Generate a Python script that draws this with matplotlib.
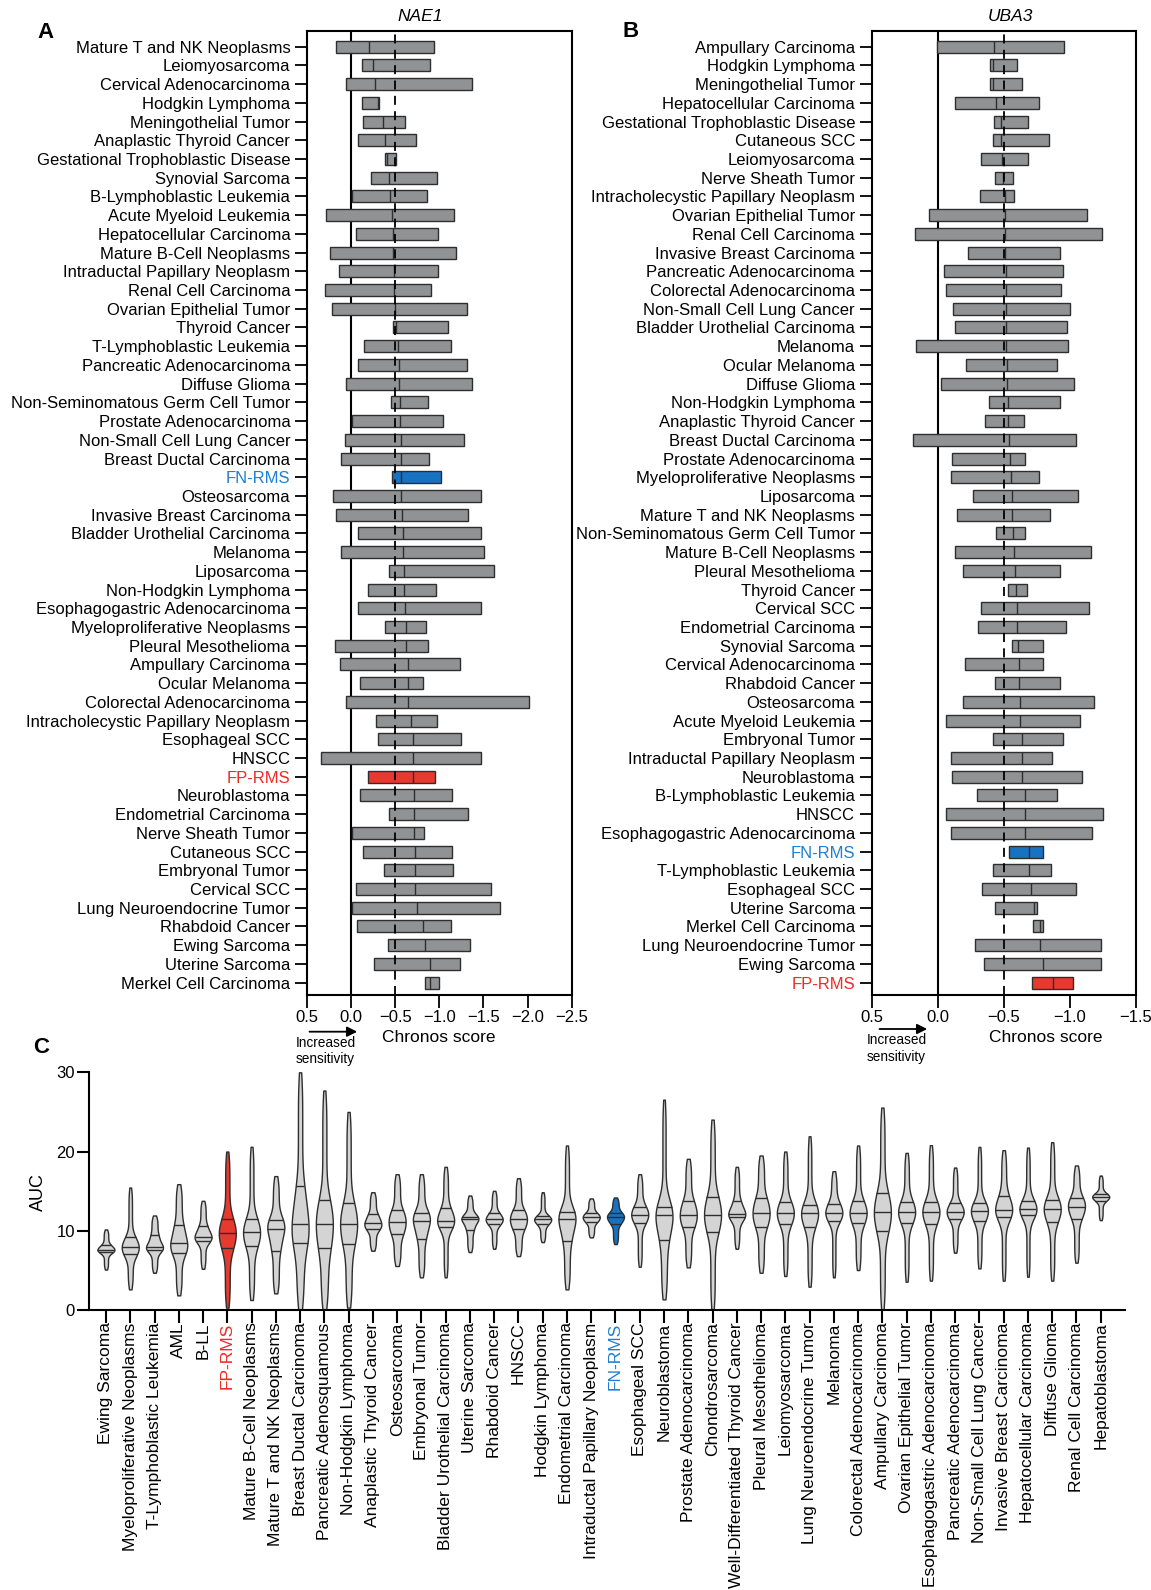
import numpy as np
import matplotlib
matplotlib.use("Agg")
import matplotlib.pyplot as plt

plt.rcParams['font.family'] = ['Liberation Sans', 'DejaVu Sans']

GRAY = "#909294"
EDGE = "#2e2e2e"
VIOLIN = "#d4d4d4"
RED = "#e8392f"
BLUE = "#1872c2"
FILL_COLORS = {"FP-RMS": RED, "FN-RMS": BLUE}
TEXT_COLORS = {"FP-RMS": "#ee2a24", "FN-RMS": "#1f7fd2"}

# ---- panel A: NAE1 Chronos scores (bar = range, line = median)
nae1_types = [
    "Mature T and NK Neoplasms", "Leiomyosarcoma", "Cervical Adenocarcinoma", "Hodgkin Lymphoma",
    "Meningothelial Tumor", "Anaplastic Thyroid Cancer", "Gestational Trophoblastic Disease",
    "Synovial Sarcoma", "B-Lymphoblastic Leukemia", "Acute Myeloid Leukemia", "Hepatocellular Carcinoma",
    "Mature B-Cell Neoplasms", "Intraductal Papillary Neoplasm", "Renal Cell Carcinoma",
    "Ovarian Epithelial Tumor", "Thyroid Cancer", "T-Lymphoblastic Leukemia", "Pancreatic Adenocarcinoma",
    "Diffuse Glioma", "Non-Seminomatous Germ Cell Tumor", "Prostate Adenocarcinoma",
    "Non-Small Cell Lung Cancer", "Breast Ductal Carcinoma", "FN-RMS", "Osteosarcoma",
    "Invasive Breast Carcinoma", "Bladder Urothelial Carcinoma", "Melanoma", "Liposarcoma",
    "Non-Hodgkin Lymphoma", "Esophagogastric Adenocarcinoma", "Myeloproliferative Neoplasms",
    "Pleural Mesothelioma", "Ampullary Carcinoma", "Ocular Melanoma", "Colorectal Adenocarcinoma",
    "Intracholecystic Papillary Neoplasm", "Esophageal SCC", "HNSCC", "FP-RMS", "Neuroblastoma",
    "Endometrial Carcinoma", "Nerve Sheath Tumor", "Cutaneous SCC", "Embryonal Tumor", "Cervical SCC",
    "Lung Neuroendocrine Tumor", "Rhabdoid Cancer", "Ewing Sarcoma", "Uterine Sarcoma",
    "Merkel Cell Carcinoma",
]
nae1_high = [0.17, -0.125, 0.06, -0.125, -0.136, -0.08, -0.38, -0.22, -0.01, 0.28, -0.057, 0.235,
             0.136, 0.30, 0.22, -0.47, -0.144, -0.083, 0.06, -0.45, -0.008, 0.064, 0.12, -0.458,
             0.20, 0.17, -0.083, 0.12, -0.43, -0.186, -0.083, -0.38, 0.18, 0.129, -0.10, 0.057,
             -0.284, -0.30, 0.337, -0.19, -0.10, -0.435, -0.008, -0.14, -0.375, -0.053, -0.008,
             -0.068, -0.417, -0.26, -0.833]
nae1_median = [-0.20, -0.246, -0.27, -0.31, -0.36, -0.38, -0.41, -0.43, -0.44, -0.466, -0.47, -0.48,
               -0.49, -0.49, -0.50, -0.51, -0.527, -0.54, -0.545, -0.557, -0.553, -0.56, -0.56, -0.56,
               -0.564, -0.576, -0.587, -0.587, -0.60, -0.60, -0.606, -0.617, -0.62, -0.644, -0.644,
               -0.65, -0.678, -0.70, -0.70, -0.705, -0.708, -0.708, -0.708, -0.72, -0.72, -0.72,
               -0.75, -0.82, -0.84, -0.894, -0.894]
nae1_low = [-0.94, -0.894, -1.375, -0.32, -0.61, -0.735, -0.51, -0.97, -0.856, -1.167, -0.98, -1.19,
            -0.985, -0.90, -1.31, -1.095, -1.13, -1.31, -1.375, -0.875, -1.04, -1.28, -0.88, -1.02,
            -1.477, -1.32, -1.47, -1.51, -1.62, -0.96, -1.47, -0.85, -0.867, -1.235, -0.82, -2.02,
            -0.97, -1.246, -1.477, -0.95, -1.148, -1.326, -0.826, -1.14, -1.15, -1.58, -1.686,
            -1.136, -1.345, -1.235, -1.0]

# ---- panel B: UBA3 Chronos scores
uba3_types = [
    "Ampullary Carcinoma", "Hodgkin Lymphoma", "Meningothelial Tumor", "Hepatocellular Carcinoma",
    "Gestational Trophoblastic Disease", "Cutaneous SCC", "Leiomyosarcoma", "Nerve Sheath Tumor",
    "Intracholecystic Papillary Neoplasm", "Ovarian Epithelial Tumor", "Renal Cell Carcinoma",
    "Invasive Breast Carcinoma", "Pancreatic Adenocarcinoma", "Colorectal Adenocarcinoma",
    "Non-Small Cell Lung Cancer", "Bladder Urothelial Carcinoma", "Melanoma", "Ocular Melanoma",
    "Diffuse Glioma", "Non-Hodgkin Lymphoma", "Anaplastic Thyroid Cancer", "Breast Ductal Carcinoma",
    "Prostate Adenocarcinoma", "Myeloproliferative Neoplasms", "Liposarcoma", "Mature T and NK Neoplasms",
    "Non-Seminomatous Germ Cell Tumor", "Mature B-Cell Neoplasms", "Pleural Mesothelioma",
    "Thyroid Cancer", "Cervical SCC", "Endometrial Carcinoma", "Synovial Sarcoma",
    "Cervical Adenocarcinoma", "Rhabdoid Cancer", "Osteosarcoma", "Acute Myeloid Leukemia",
    "Embryonal Tumor", "Intraductal Papillary Neoplasm", "Neuroblastoma", "B-Lymphoblastic Leukemia",
    "HNSCC", "Esophagogastric Adenocarcinoma", "FN-RMS", "T-Lymphoblastic Leukemia", "Esophageal SCC",
    "Uterine Sarcoma", "Merkel Cell Carcinoma", "Lung Neuroendocrine Tumor", "Ewing Sarcoma", "FP-RMS",
]
uba3_high = [0.005, -0.395, -0.395, -0.13, -0.423, -0.416, -0.327, -0.436, -0.322, 0.063, 0.174,
             -0.229, -0.048, -0.06, -0.118, -0.134, 0.164, -0.214, -0.023, -0.388, -0.358, 0.19,
             -0.106, -0.103, -0.267, -0.144, -0.443, -0.131, -0.189, -0.534, -0.325, -0.302, -0.562,
             -0.207, -0.433, -0.189, -0.06, -0.42, -0.103, -0.106, -0.30, -0.063, -0.10, -0.539,
             -0.416, -0.335, -0.436, -0.718, -0.28, -0.348, -0.71]
uba3_median = [-0.426, -0.418, -0.418, -0.44, -0.476, -0.48, -0.489, -0.494, -0.505, -0.509, -0.511,
               -0.511, -0.514, -0.514, -0.516, -0.519, -0.519, -0.521, -0.524, -0.531, -0.531, -0.539,
               -0.55, -0.554, -0.559, -0.562, -0.567, -0.574, -0.587, -0.589, -0.60, -0.602, -0.605,
               -0.612, -0.612, -0.62, -0.625, -0.637, -0.637, -0.64, -0.662, -0.662, -0.662, -0.69,
               -0.69, -0.703, -0.725, -0.77, -0.776, -0.80, -0.87]
uba3_low = [-0.957, -0.60, -0.637, -0.766, -0.68, -0.84, -0.68, -0.567, -0.577, -1.126, -1.242,
            -0.927, -0.945, -0.935, -1.0, -0.975, -0.982, -0.90, -1.028, -0.927, -0.65, -1.045,
            -0.66, -0.763, -1.06, -0.846, -0.662, -1.161, -0.927, -0.678, -1.144, -0.967, -0.793,
            -0.80, -0.924, -1.179, -1.076, -0.945, -0.866, -1.088, -0.90, -1.254, -1.169, -0.80,
            -0.854, -1.045, -0.75, -0.793, -1.232, -1.232, -1.023]

# ---- panel C: AUC distributions (min, quartiles, max)
auc_types = [
    "Ewing Sarcoma", "Myeloproliferative Neoplasms", "T-Lymphoblastic Leukemia", "AML", "B-LL", "FP-RMS",
    "Mature B-Cell Neoplasms", "Mature T and NK Neoplasms", "Breast Ductal Carcinoma",
    "Pancreatic Adenosquamous", "Non-Hodgkin Lymphoma", "Anaplastic Thyroid Cancer", "Osteosarcoma",
    "Embryonal Tumor", "Bladder Urothelial Carcinoma", "Uterine Sarcoma", "Rhabdoid Cancer", "HNSCC",
    "Hodgkin Lymphoma", "Endometrial Carcinoma", "Intraductal Papillary Neoplasm", "FN-RMS",
    "Esophageal SCC", "Neuroblastoma", "Prostate Adenocarcinoma", "Chondrosarcoma",
    "Well-Differentiated Thyroid Cancer", "Pleural Mesothelioma", "Leiomyosarcoma",
    "Lung Neuroendocrine Tumor", "Melanoma", "Colorectal Adenocarcinoma", "Ampullary Carcinoma",
    "Ovarian Epithelial Tumor", "Esophagogastric Adenocarcinoma", "Pancreatic Adenocarcinoma",
    "Non-Small Cell Lung Cancer", "Invasive Breast Carcinoma", "Hepatocellular Carcinoma",
    "Diffuse Glioma", "Renal Cell Carcinoma", "Hepatoblastoma",
]
auc_min = [5.1, 2.6, 4.7, 1.85, 5.2, 0.3, 1.26, 2.1, 0.0, 0.0, 0.3, 7.48, 5.55, 4.12, 4.12, 7.31,
           7.73, 6.8, 8.57, 2.6, 9.16, 8.32, 5.46, 1.34, 5.38, 0.0, 7.73, 4.7, 4.29, 2.94, 4.12,
           5.04, 0.0, 3.57, 3.7, 7.23, 5.25, 3.7, 4.2, 3.7, 5.97, 11.34]
auc_q1 = [7.3, 7.06, 7.56, 7.23, 8.74, 7.77, 8.07, 7.48, 8.49, 7.77, 8.32, 10.2, 9.54, 8.99, 10.46,
          10.04, 10.8, 10.21, 10.8, 8.7, 11.05, 10.84, 10.92, 8.82, 10.5, 9.87, 11.68, 10.5, 10.84,
          10.42, 11.22, 10.92, 9.96, 11.0, 10.84, 11.47, 11.26, 11.68, 11.93, 11.05, 11.43, 13.78]
auc_median = [7.6, 7.9, 7.98, 8.4, 9.24, 9.66, 9.79, 10.17, 10.84, 10.88, 10.88, 10.92, 11.09, 11.22,
              11.26, 11.47, 11.43, 11.43, 11.43, 11.51, 11.68, 11.68, 12.02, 12.02, 12.02, 12.02,
              12.1, 12.23, 12.23, 12.23, 12.23, 12.27, 12.31, 12.35, 12.39, 12.39, 12.52, 12.6,
              12.69, 12.77, 13.03, 14.29]
auc_q3 = [8.2, 9.16, 9.41, 10.76, 10.59, 11.47, 11.43, 11.34, 15.63, 13.87, 13.45, 12.1, 12.56, 12.27,
          12.82, 11.76, 12.18, 12.6, 11.85, 12.31, 12.23, 12.23, 13.03, 12.94, 13.78, 14.2, 13.78,
          14.08, 13.57, 13.19, 13.32, 13.74, 14.71, 13.66, 13.66, 13.45, 13.45, 14.37, 13.7, 13.87,
          14.08, 14.62]
auc_max = [10.17, 15.46, 11.93, 15.88, 13.78, 20.0, 20.6, 16.9, 30.0, 27.7, 25.0, 14.87, 17.14, 17.14,
           18.07, 14.45, 15.04, 16.64, 14.87, 20.76, 14.08, 14.2, 17.14, 26.55, 19.08, 24.03, 18.07,
           19.5, 20.0, 21.93, 17.52, 20.76, 25.55, 19.83, 20.8, 17.98, 20.59, 20.17, 20.5, 21.18,
           18.24, 16.97]

W, H = 1151, 1590
fig = plt.figure(figsize=(W / 100, H / 100), dpi=100)


def fx(px):
    return px / W


def fy(px):
    return 1 - px / H


def chronos_panel(ax, types, high, med, low, xend):
    y = np.arange(len(types))
    high = np.array(high)
    low = np.array(low)
    colors = [FILL_COLORS.get(t, GRAY) for t in types]
    ax.axvline(0, color="black", lw=1.5, zorder=1)
    ax.barh(y, low - high, left=high, height=0.64, color=colors, edgecolor=EDGE, linewidth=1.0, zorder=3)
    ax.vlines(med, y - 0.32, y + 0.32, color=EDGE, lw=1.0, zorder=4)
    ax.axvline(-0.5, color="black", lw=1.3, ls=(0, (5, 3.5)), zorder=5)
    ax.set_xlim(0.5, xend)
    ax.set_ylim(len(types) - 1 + 0.66, -0.855)
    ax.set_yticks(y)
    ax.set_yticklabels(types, fontsize=12)
    for lab, t in zip(ax.get_yticklabels(), types):
        lab.set_color(TEXT_COLORS.get(t, "black"))
    ax.set_xticks(np.arange(0.5, xend - 0.01, -0.5))
    ax.tick_params(axis="y", length=9, width=1.3, pad=3)
    ax.tick_params(axis="x", length=9, width=1.3, pad=2, labelsize=12)
    for s in ax.spines.values():
        s.set_linewidth(1.5)


# panel A
axa = fig.add_axes([fx(307), fy(995), fx(571.7 - 307), (995 - 30.7) / H])
chronos_panel(axa, nae1_types, nae1_high, nae1_median, nae1_low, -2.5)

# panel B
axb = fig.add_axes([fx(871.7), fy(995), fx(1136 - 871.7), (995 - 30.7) / H])
chronos_panel(axb, uba3_types, uba3_high, uba3_median, uba3_low, -1.5)

fig.text(fx(420), fy(16.7), "NAE1", style="italic", fontsize=12.5, ha="center", va="center")
fig.text(fx(1010), fy(16.7), "UBA3", style="italic", fontsize=12.5, ha="center", va="center")

for x0, x1, ya, xt, yt, xc in [(306.7, 360, 1031.7, 296, 1043, 439),
                               (876.7, 930, 1029, 866.7, 1040, 1045.5)]:
    fig.add_artist(matplotlib.patches.FancyArrowPatch(
        (fx(x0), fy(ya)), (fx(x1), fy(ya)), transform=fig.transFigure,
        arrowstyle="-|>,head_length=6,head_width=3", color="black", lw=1.3))
    fig.text(fx(xt), fy(yt), "Increased", fontsize=9.8, ha="left", va="center")
    fig.text(fx(xt), fy(yt + 16.5), "sensitivity", fontsize=9.8, ha="left", va="center")
    fig.text(fx(xc), fy(1037), "Chronos score", fontsize=12.5, ha="center", va="center")

# panel C
axc = fig.add_axes([fx(89), fy(1310), fx(1125 - 89), (1310 - 1072.3) / H])
pos = np.arange(len(auc_types))
probs = np.linspace(0, 1, 401)
samples = [np.interp(probs, [0, 0.25, 0.5, 0.75, 1], q)
           for q in zip(auc_min, auc_q1, auc_median, auc_q3, auc_max)]
parts = axc.violinplot(samples, positions=pos, widths=0.7, showextrema=False)
for body, p, t, qs in zip(parts["bodies"], pos, auc_types, zip(auc_q1, auc_median, auc_q3)):
    body.set_facecolor(FILL_COLORS.get(t, VIOLIN))
    body.set_edgecolor(EDGE)
    body.set_linewidth(1.0)
    body.set_alpha(1)
    v = body.get_paths()[0].vertices
    right = v[v[:, 0] >= p]
    order = np.argsort(right[:, 1])
    hw = np.interp(qs, right[order, 1], right[order, 0] - p)
    axc.hlines(qs, p - hw, p + hw, color=EDGE, lw=1.0, zorder=3)

axc.set_xlim(-0.7, 42.0)
axc.set_ylim(0, 30)
axc.set_yticks([0, 10, 20, 30])
axc.set_xticks(pos)
axc.set_xticklabels(auc_types, rotation=90, fontsize=12.5)
for lab, t in zip(axc.get_xticklabels(), auc_types):
    lab.set_color(TEXT_COLORS.get(t, "black"))
axc.tick_params(axis="y", length=9, width=1.5, pad=1, labelsize=12)
axc.tick_params(axis="x", length=9, width=1.5, pad=0)
axc.spines["top"].set_visible(False)
axc.spines["right"].set_visible(False)
axc.spines["left"].set_linewidth(1.5)
axc.spines["bottom"].set_linewidth(1.5)
fig.text(fx(38.4), fy(1192), "AUC", rotation=90, fontsize=13, ha="center", va="center")

fig.text(fx(45.5), fy(33), "A", fontsize=16, fontweight="bold", ha="center", va="center")
fig.text(fx(631), fy(31.4), "B", fontsize=16, fontweight="bold", ha="center", va="center")
fig.text(fx(41), fy(1047.5), "C", fontsize=16, fontweight="bold", ha="center", va="center")

fig.savefig("out.png", dpi=100)
